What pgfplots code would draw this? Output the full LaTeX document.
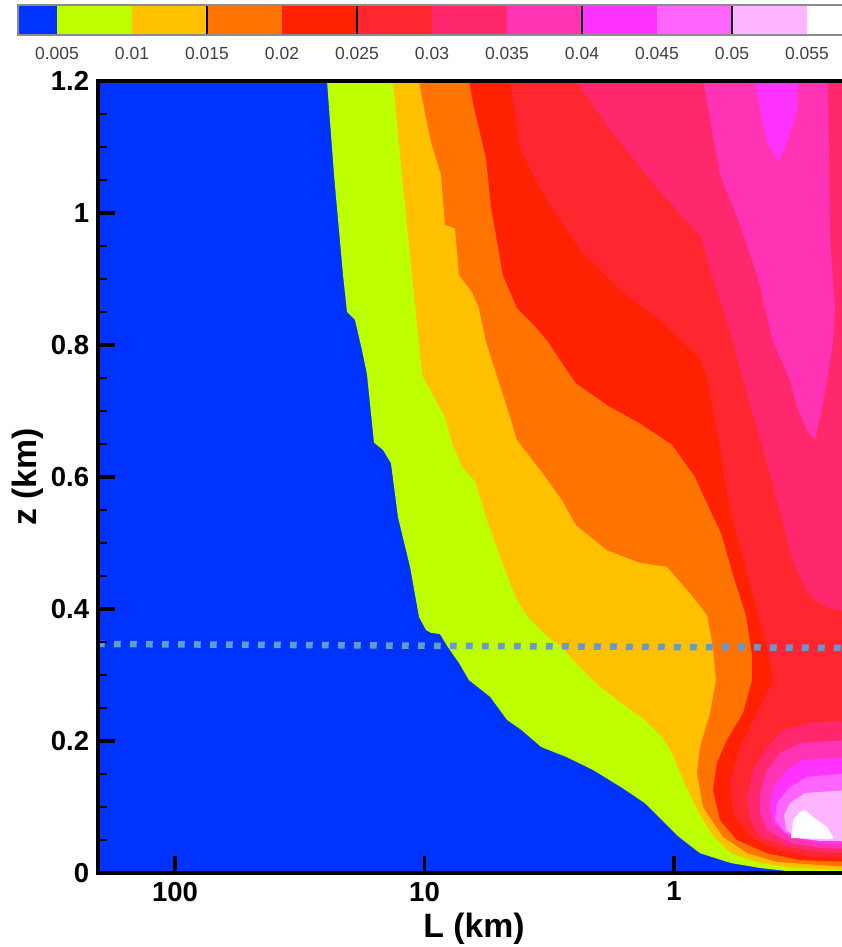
\documentclass[border=0pt]{standalone}
\usepackage{pgfplots}
\pgfplotsset{compat=1.18}
\usepackage{fontspec}
\setmainfont{Liberation Sans}
\definecolor{c1}{RGB}{0,51,255}
\definecolor{c2}{RGB}{190,255,0}
\definecolor{c3}{RGB}{255,192,0}
\definecolor{c4}{RGB}{255,115,0}
\definecolor{c5}{RGB}{255,34,0}
\definecolor{c6}{RGB}{255,38,48}
\definecolor{c7}{RGB}{255,40,108}
\definecolor{c8}{RGB}{255,51,180}
\definecolor{c9}{RGB}{255,51,255}
\definecolor{c10}{RGB}{255,100,255}
\definecolor{c11}{RGB}{255,180,255}
\definecolor{c12}{RGB}{255,255,255}
\definecolor{dotc}{RGB}{104,153,204}
\begin{document}
\begin{tikzpicture}
\useasboundingbox (-39.2pt,-29.6pt) rectangle (297.2pt,349.2pt);
\begin{axis}[
  name=main, at={(0pt,0pt)}, anchor=south west,
  scale only axis, width=299pt, height=316.8pt,
  xmode=log, x dir=reverse, xmin=0.2055, xmax=203.5, ymin=0, ymax=1.2,
  axis background/.style={fill=c1},
  axis on top,
  axis line style={black, line width=1.8pt},
  xtick={1,10,100}, xticklabels={1,10,100}, xminorticks=false,
  ytick={0,0.2,0.4,0.6,0.8,1,1.2}, yticklabels={0,0.2,0.4,0.6,0.8,1,1.2},
  minor ytick={0.05,0.1,0.15,0.25,0.3,0.35,0.45,0.5,0.55,0.65,0.7,0.75,0.85,0.9,0.95,1.05,1.1,1.15},
  tick align=inside, xtick pos=left, ytick pos=left,
  major tick length=6.8pt, minor tick length=3.6pt,
  every major tick/.append style={line width=1.3pt, black},
  every minor tick/.append style={line width=0.8pt, black},
  /pgf/number format/assume math mode=true,
  ticklabel style={font=\fontsize{11}{13}\selectfont\bfseries},
  xlabel={L (km)}, ylabel={z (km)},
  every axis x label/.style={at={(axis description cs:0.503,-0.0707)}, anchor=center, font=\fontsize{13.5}{16}\selectfont\bfseries},
  every axis y label/.style={at={(axis description cs:-0.0936,0.5)}, rotate=90, anchor=center, font=\fontsize{13.5}{16}\selectfont\bfseries},
]
% value > 0.005
\addplot[fill=c2, draw=none] coordinates {(24.59,1.25)(24.59,1.2)(23.05,1.058)(21.21,0.906)(20.44,0.85)(19.0,0.838)(17.8,0.792)(17.0,0.755)(15.94,0.652)(14.67,0.641)(13.63,0.621)(12.77,0.539)(11.43,0.464)(10.52,0.388)(9.86,0.368)(9.42,0.364)(8.67,0.362)(8.05,0.342)(7.27,0.318)(6.63,0.292)(5.46,0.267)(4.67,0.232)(4.10,0.217)(3.41,0.191)(2.71,0.176)(2.11,0.156)(1.63,0.130)(1.31,0.106)(1.117,0.080)(0.955,0.0545)(0.787,0.030)(0.591,0.015)(0.452,0.0076)(0.327,0.0015)(0.2,0.0008)(0.2,1.25)};
% value > 0.01
\addplot[fill=c3, draw=none] coordinates {(13.37,1.25)(13.37,1.2)(12.31,1.058)(11.22,0.906)(10.23,0.755)(8.28,0.691)(7.76,0.652)(7.07,0.615)(6.22,0.591)(5.67,0.539)(5.08,0.489)(4.54,0.439)(4.26,0.414)(3.85,0.388)(3.29,0.361)(2.81,0.342)(2.47,0.318)(1.98,0.282)(1.63,0.258)(1.31,0.232)(1.117,0.206)(1.019,0.182)(0.895,0.130)(0.765,0.080)(0.691,0.0545)(0.591,0.030)(0.456,0.0152)(0.333,0.0076)(0.2,0.0045)(0.2,1.25)};
% value > 0.015
\addplot[fill=c4, draw=none] coordinates {(10.52,1.25)(10.52,1.2)(10.05,1.159)(9.42,1.108)(8.59,1.058)(8.28,0.982)(7.55,0.977)(7.27,0.906)(6.45,0.880)(6.05,0.856)(5.67,0.805)(5.17,0.758)(4.54,0.691)(4.26,0.656)(3.44,0.611)(2.81,0.565)(2.47,0.527)(1.855,0.489)(1.369,0.470)(1.067,0.464)(0.863,0.424)(0.737,0.391)(0.698,0.342)(0.679,0.292)(0.717,0.242)(0.787,0.191)(0.809,0.152)(0.765,0.100)(0.636,0.0545)(0.510,0.0303)(0.387,0.0167)(0.2,0.0091)(0.2,1.25)};
% value > 0.02
\addplot[fill=c5, draw=none] coordinates {(6.63,1.25)(6.63,1.2)(6.33,1.159)(5.67,1.083)(5.41,1.008)(4.85,0.906)(4.26,0.856)(3.64,0.830)(3.20,0.805)(2.86,0.777)(2.47,0.742)(1.839,0.708)(1.381,0.682)(1.019,0.649)(0.824,0.600)(0.717,0.550)(0.648,0.515)(0.575,0.447)(0.515,0.391)(0.487,0.330)(0.487,0.292)(0.529,0.242)(0.613,0.202)(0.673,0.167)(0.698,0.126)(0.654,0.080)(0.559,0.050)(0.424,0.030)(0.313,0.0197)(0.2,0.0167)(0.2,1.25)};
% value > 0.025
\addplot[fill=c6, draw=none] coordinates {(4.54,1.25)(4.54,1.2)(4.14,1.096)(3.29,1.023)(2.38,0.944)(1.646,0.883)(1.138,0.838)(0.787,0.780)(0.737,0.747)(0.654,0.646)(0.613,0.570)(0.544,0.494)(0.483,0.418)(0.424,0.342)(0.401,0.292)(0.465,0.242)(0.544,0.191)(0.596,0.141)(0.580,0.091)(0.496,0.0545)(0.387,0.0348)(0.285,0.0242)(0.2,0.0227)(0.2,1.25)};
% value > 0.03
\addplot[fill=c7, draw=none] coordinates {(2.47,1.25)(2.47,1.2)(1.805,1.126)(1.248,1.05)(0.863,0.982)(0.787,0.967)(0.673,0.880)(0.580,0.805)(0.529,0.747)(0.424,0.621)(0.376,0.546)(0.333,0.470)(0.285,0.418)(0.2436,0.403)(0.2,0.394)(0.2,1.25)};
\addplot[fill=c7, draw=none] coordinates {(0.2,0.2318)(0.285,0.2273)(0.366,0.2167)(0.424,0.1909)(0.483,0.1561)(0.510,0.1152)(0.496,0.0803)(0.452,0.0545)(0.352,0.0394)(0.260,0.0318)(0.2,0.0303)};
% value > 0.035
\addplot[fill=c8, draw=none] coordinates {(0.765,1.25)(0.765,1.2)(0.654,1.058)(0.544,0.982)(0.465,0.906)(0.401,0.805)(0.343,0.747)(0.321,0.705)(0.293,0.671)(0.272,0.656)(0.255,0.705)(0.2415,0.755)(0.2305,0.805)(0.2263,0.856)(0.2369,0.956)(0.2415,1.2)(0.2415,1.25)};
\addplot[fill=c8, draw=none] coordinates {(0.2,0.2015)(0.313,0.197)(0.376,0.1818)(0.424,0.1561)(0.452,0.1212)(0.452,0.0909)(0.424,0.0652)(0.343,0.0455)(0.260,0.0379)(0.2,0.0364)};
% value > 0.04
\addplot[fill=c9, draw=none] coordinates {(0.474,1.25)(0.474,1.2)(0.452,1.159)(0.424,1.108)(0.383,1.080)(0.352,1.108)(0.321,1.156)(0.321,1.25)};
\addplot[fill=c9, draw=none] coordinates {(0.2,0.1758)(0.304,0.1712)(0.352,0.1561)(0.401,0.1303)(0.412,0.100)(0.401,0.0758)(0.343,0.0545)(0.260,0.0455)(0.2,0.0424)};
% value > 0.045
\addplot[fill=c10, draw=none] coordinates {(0.2,0.1515)(0.293,0.1455)(0.343,0.1303)(0.387,0.1061)(0.394,0.0803)(0.359,0.0606)(0.277,0.050)(0.2,0.047)};
% value > 0.05
\addplot[fill=c11, draw=none] coordinates {(0.2,0.1258)(0.2985,0.1212)(0.343,0.1061)(0.362,0.0879)(0.356,0.0652)(0.321,0.053)(0.260,0.0485)(0.2,0.0485)};
% value > 0.055
\addplot[fill=c12, draw=none] coordinates {(0.340,0.053)(0.333,0.0803)(0.313,0.0924)(0.2985,0.0955)(0.277,0.0848)(0.2436,0.0697)(0.2305,0.0545)(0.2305,0.0515)};
% dotted reference line
\addplot[dotc, line width=2.6pt, dash pattern=on 2.7pt off 3.7pt] coordinates {(203.5,0.347)(0.2055,0.341)};
\end{axis}
% colour bar
\begin{axis}[
  at={(-32pt,335.2pt)}, anchor=south west,
  scale only axis, width=330.6pt, height=12pt,
  xmin=0.0024, xmax=0.0575, ymin=0, ymax=1,
  scaled x ticks=false,
  ytick=\empty,
  xtick={0.005,0.01,0.015,0.02,0.025,0.03,0.035,0.04,0.045,0.05,0.055},
  xticklabels={0.005,0.01,0.015,0.02,0.025,0.03,0.035,0.04,0.045,0.05,0.055},
  major tick length=0pt, xtick pos=left,
  axis on top,
  axis line style={black!45, line width=0.6pt},
  xticklabel style={font=\fontsize{7}{8.5}\selectfont, text=black!75, yshift=-1.5pt},
]
\addplot[fill=c1, draw=none] coordinates {(0.0024,0)(0.005,0)(0.005,1)(0.0024,1)};
\addplot[fill=c2, draw=none] coordinates {(0.005,0)(0.01,0)(0.01,1)(0.005,1)};
\addplot[fill=c3, draw=none] coordinates {(0.01,0)(0.015,0)(0.015,1)(0.01,1)};
\addplot[fill=c4, draw=none] coordinates {(0.015,0)(0.02,0)(0.02,1)(0.015,1)};
\addplot[fill=c5, draw=none] coordinates {(0.02,0)(0.025,0)(0.025,1)(0.02,1)};
\addplot[fill=c6, draw=none] coordinates {(0.025,0)(0.03,0)(0.03,1)(0.025,1)};
\addplot[fill=c7, draw=none] coordinates {(0.03,0)(0.035,0)(0.035,1)(0.03,1)};
\addplot[fill=c8, draw=none] coordinates {(0.035,0)(0.04,0)(0.04,1)(0.035,1)};
\addplot[fill=c9, draw=none] coordinates {(0.04,0)(0.045,0)(0.045,1)(0.04,1)};
\addplot[fill=c10, draw=none] coordinates {(0.045,0)(0.05,0)(0.05,1)(0.045,1)};
\addplot[fill=c11, draw=none] coordinates {(0.05,0)(0.055,0)(0.055,1)(0.05,1)};
\addplot[fill=c12, draw=none] coordinates {(0.055,0)(0.0575,0)(0.0575,1)(0.055,1)};
\addplot[black, line width=0.8pt] coordinates {(0.0024,0)(0.0024,1)};
\addplot[black, line width=0.8pt] coordinates {(0.015,0)(0.015,1)};
\addplot[black, line width=0.8pt] coordinates {(0.025,0)(0.025,1)};
\addplot[black, line width=0.8pt] coordinates {(0.04,0)(0.04,1)};
\addplot[black, line width=0.8pt] coordinates {(0.05,0)(0.05,1)};
\end{axis}
\end{tikzpicture}
\end{document}
